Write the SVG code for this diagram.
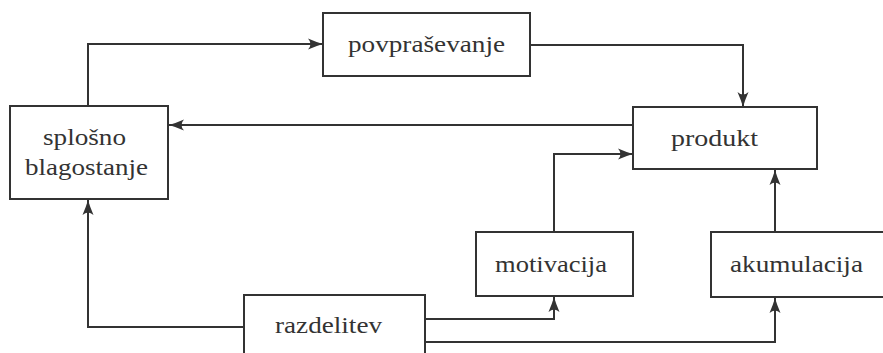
<svg xmlns="http://www.w3.org/2000/svg" width="883" height="353" viewBox="0 0 883 353">
<style>
.box{fill:#fff;stroke:#333;stroke-width:2}
.lbl{font-family:"Liberation Serif","Times New Roman",serif;font-size:24px;fill:#333}
.con{fill:none;stroke:#333;stroke-width:2;marker-end:url(#ah)}
</style>
<defs>
<marker id="ah" markerUnits="userSpaceOnUse" markerWidth="16" markerHeight="12" viewBox="0 0 16 12" refX="15" refY="6" orient="auto">
<path d="M0,0.5 Q8,4 15,6 Q8,8 0,11.5 Q5,6 0,0.5 Z" fill="#333"/>
</marker>
</defs>
<rect width="883" height="353" fill="#fff"/>
<g id="connectors">
<path class="con" d="M88,106 V44 H323"/>
<path class="con" d="M530,45 H743 V107"/>
<path class="con" d="M633,125 H169"/>
<path class="con" d="M554,232 V154 H633"/>
<path class="con" d="M775,232 V170"/>
<path class="con" d="M244,327 H88 V200"/>
<path class="con" d="M425,319 H554 V297"/>
<path class="con" d="M425,342 H775 V298"/>
</g>
<g id="povprasevanje">
<rect class="box" x="323" y="13" width="207" height="63"/>
<text class="lbl" x="348" y="52" textLength="157" lengthAdjust="spacingAndGlyphs">povpraševanje</text>
</g>
<g id="splosno-blagostanje">
<rect class="box" x="10" y="106" width="158" height="93"/>
<text class="lbl" x="43" y="145" textLength="83" lengthAdjust="spacingAndGlyphs">splošno</text>
<text class="lbl" x="25" y="175" textLength="123" lengthAdjust="spacingAndGlyphs">blagostanje</text>
</g>
<g id="produkt">
<rect class="box" x="633" y="107" width="184" height="62"/>
<text class="lbl" x="671" y="146" textLength="87" lengthAdjust="spacingAndGlyphs">produkt</text>
</g>
<g id="motivacija">
<rect class="box" x="476" y="232" width="157" height="64"/>
<text class="lbl" x="495" y="272" textLength="112" lengthAdjust="spacingAndGlyphs">motivacija</text>
</g>
<g id="akumulacija">
<rect class="box" x="711" y="232" width="185" height="65"/>
<text class="lbl" x="730" y="272" textLength="133" lengthAdjust="spacingAndGlyphs">akumulacija</text>
</g>
<g id="razdelitev">
<rect class="box" x="244" y="295" width="181" height="70"/>
<text class="lbl" x="275" y="333" textLength="107" lengthAdjust="spacingAndGlyphs">razdelitev</text>
</g>
</svg>
